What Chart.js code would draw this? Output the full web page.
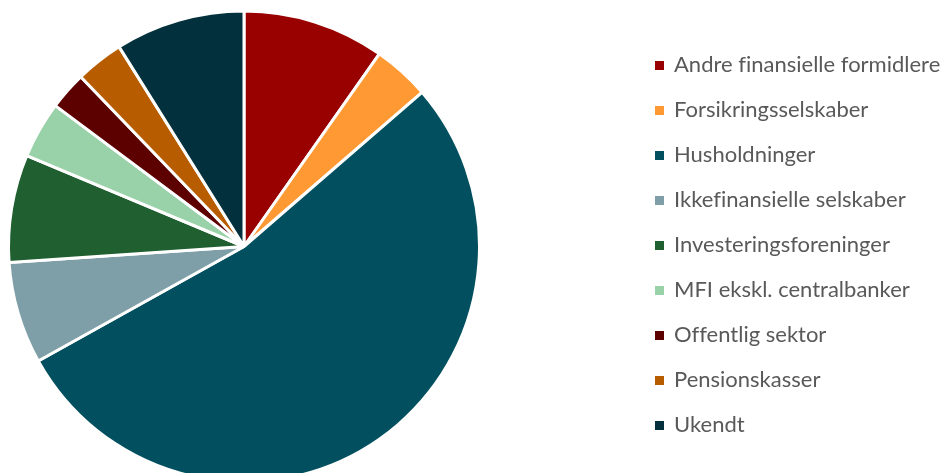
<!DOCTYPE html>
<html>
<head>
<meta charset="utf-8">
<script src="https://cdn.jsdelivr.net/npm/chart.js@4.4.1/dist/chart.umd.min.js"></script>
<style>
  html, body { margin: 0; padding: 0; width: 949px; height: 473px; overflow: hidden; background: #ffffff; }
  #wrap { position: absolute; left: 0; top: 0; width: 949px; height: 484px; }
  #legend { position: absolute; left: 655px; top: 0; margin: 0; padding: 0; list-style: none;
            font-family: Lato, "Open Sans", sans-serif; font-size: 22px; color: #595959;
            font-variant-ligatures: none; }
  #legend li { position: absolute; left: 0; white-space: nowrap; height: 26px; line-height: 26px; }
  #legend .box { position: absolute; left: 0; top: 10px; width: 9px; height: 9px; }
  #legend .txt { position: absolute; left: 19px; top: 0; }
</style>
</head>
<body>
<div id="wrap"><canvas id="c" width="949" height="484"></canvas></div>
<ul id="legend"></ul>
<script>
const categories = [
  "Andre finansielle formidlere",
  "Forsikringsselskaber",
  "Husholdninger",
  "Ikkefinansielle selskaber",
  "Investeringsforeninger",
  "MFI ekskl. centralbanker",
  "Offentlig sektor",
  "Pensionskasser",
  "Ukendt"
];
const shares = [9.75, 3.9, 53.3, 7.0, 7.4, 3.9, 2.6, 3.3, 8.9];
const colors = ["#990000", "#FF9933", "#02505F", "#7F9FA8", "#1F5F30", "#99D1A8", "#5C0000", "#B85C00", "#02303C"];

const chart = new Chart(document.getElementById('c'), {
  type: 'pie',
  data: {
    labels: categories,
    datasets: [{
      data: shares,
      backgroundColor: colors,
      borderColor: '#ffffff',
      borderWidth: 3
    }]
  },
  options: {
    responsive: false,
    animation: false,
    layout: { padding: { left: 7, top: 9, right: 468, bottom: 0 } },
    plugins: { legend: { display: false }, tooltip: { enabled: false } }
  }
});

const ul = document.getElementById('legend');
categories.forEach((name, i) => {
  const li = document.createElement('li');
  li.style.top = (51 + i * 45) + 'px';
  const b = document.createElement('span');
  b.className = 'box';
  b.style.background = colors[i];
  const t = document.createElement('span');
  t.className = 'txt';
  t.textContent = name;
  li.appendChild(b); li.appendChild(t);
  ul.appendChild(li);
});
</script>
</body>
</html>
